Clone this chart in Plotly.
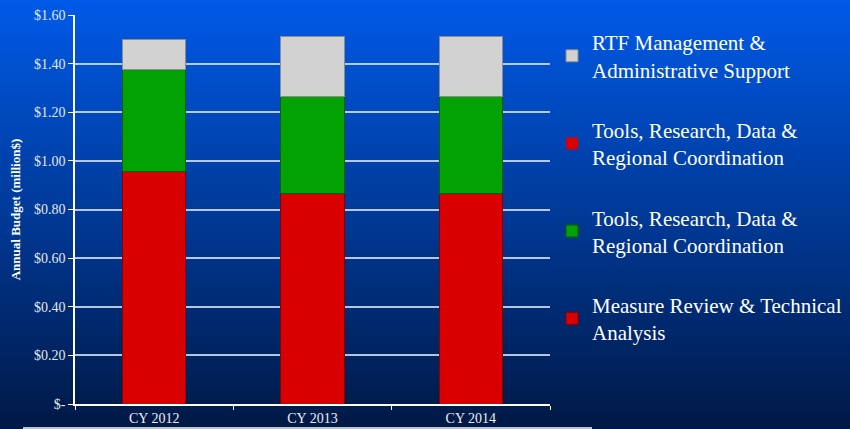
import plotly.graph_objects as go

years = ['CY 2012', 'CY 2013', 'CY 2014']
measure_review = [0.955, 0.865, 0.865]
tools_green = [0.42, 0.40, 0.40]
tools_red = [0, 0, 0]
rtf_mgmt = [0.125, 0.245, 0.245]

tick_vals = [0, 0.2, 0.4, 0.6, 0.8, 1.0, 1.2, 1.4, 1.6]
tick_text = ['$-', '$0.20', '$0.40', '$0.60', '$0.80', '$1.00', '$1.20', '$1.40', '$1.60']

W, H = 850, 429
L, R, T, B = 75, 300, 15, 25
pw, ph = W - L - R, H - T - B

fig = go.Figure()

# (name, values, colour, edge, legend position)
series = [
    ('Measure Review & Technical<br>Analysis', measure_review, '#d80000', '#8a0000', 4),
    ('Tools, Research, Data &<br>Regional Coordination', tools_green, '#03a203', '#025f02', 3),
    ('Tools, Research, Data &<br>Regional Coordination', tools_red, '#d80000', '#8a0000', 2),
    ('RTF Management &<br>Administrative Support', rtf_mgmt, '#d2d2d2', '#8c8c8c', 1),
]
for i, (name, vals, col, edge, rank) in enumerate(series):
    fig.add_trace(go.Bar(
        x=years, y=vals, name=name, legendgroup=str(i), legendrank=rank,
        marker=dict(color=col, line=dict(color=edge, width=1 if sum(vals) else 0))))

# vertical gradient background, drawn as thin strips
shapes = []
n = 80
top, bot = (0, 90, 232), (0, 25, 70)
for k in range(n):
    f = k / (n - 1)
    c = tuple(int(round(top[j] + (bot[j] - top[j]) * f)) for j in range(3))
    y1 = H - k * H / n + 1
    y0 = H - (k + 1) * H / n - 1
    shapes.append(dict(
        type='rect', xref='paper', yref='paper', layer='below',
        x0=-L / pw - 0.01, x1=1 + R / pw + 0.01,
        y0=(y0 - B) / ph, y1=(y1 - B) / ph,
        fillcolor='rgb(%d,%d,%d)' % c, line=dict(width=0)))
# stray white line along the bottom edge
shapes.append(dict(
    type='line', xref='paper', yref='paper', layer='above',
    x0=(23 - L) / pw, x1=(592 - L) / pw,
    y0=(H - 428 - B) / ph, y1=(H - 428 - B) / ph,
    line=dict(color='white', width=1.5)))

serif = 'Liberation Serif, Times New Roman, serif'
fig.update_layout(
    width=W, height=H,
    margin=dict(l=L, r=R, t=T, b=B, autoexpand=False),
    barmode='stack', bargap=0.6,
    paper_bgcolor='#002a80', plot_bgcolor='rgba(0,0,0,0)',
    shapes=shapes,
    font=dict(family=serif, color='white'),
    showlegend=True,
    legend=dict(
        x=(552 - L) / pw, y=1 - (22 - T) / ph, xanchor='left', yanchor='top',
        traceorder='grouped', tracegroupgap=30,
        font=dict(family=serif, size=21, color='white'),
        bgcolor='rgba(0,0,0,0)', itemwidth=30),
    xaxis=dict(
        showline=True, linecolor='white', linewidth=1.5,
        ticks='outside', tickson='boundaries', ticklen=4, tickcolor='white',
        tickfont=dict(family=serif, size=14, color='#eeeeee')),
    yaxis=dict(
        range=[0, 1.6], tickvals=tick_vals, ticktext=tick_text,
        showline=True, linecolor='white', linewidth=1.5,
        ticks='outside', ticklen=5, tickcolor='white',
        showgrid=True, gridcolor='rgba(215,225,245,0.85)', gridwidth=1.5,
        zeroline=False,
        tickfont=dict(family=serif, size=14, color='#e6e6e6'),
        title=dict(text='<b>Annual Budget (million$)</b>',
                   font=dict(family=serif, size=13, color='white'), standoff=10)),
)

# drop the default page margin so the figure sits at the window's corner
fig.write_html('out.html', config={'displayModeBar': False},
               post_script="document.body.style.margin='0';")
